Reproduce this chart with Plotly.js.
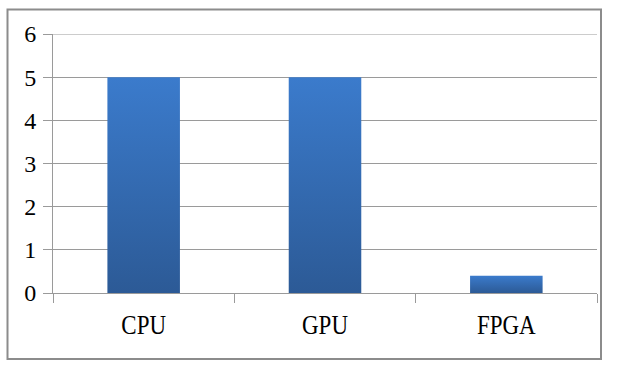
<!DOCTYPE html>
<html>
<head>
<meta charset="utf-8">
<script src="https://cdn.plot.ly/plotly-3.0.1.min.js"></script>
<style>
html,body{margin:0;padding:0;background:#fff;}
#chart{width:628px;height:366px;}
</style>
</head>
<body>
<div id="chart"></div>
<script>
const categories = ["CPU", "GPU", "FPGA"];
const values = [5, 5, 0.4];
const yTicks = [0, 1, 2, 3, 4, 5, 6];

const W = 628, H = 366;
const mL = 53, mR = 31, mT = 34, mB = 73;
const pw = W - mL - mR, ph = H - mT - mB;
function px(x){ return (x - mL) / pw; }
function py(y){ return (H - mB - y) / ph; }

const trace = {
  type: 'bar',
  x: categories,
  y: values,
  marker: {color: '#3570b8', line: {width: 0}},
  hoverinfo: 'none'
};

const layout = {
  width: W, height: H,
  margin: {l: mL, r: mR, t: mT, b: mB, pad: 0},
  paper_bgcolor: '#ffffff',
  plot_bgcolor: '#ffffff',
  showlegend: false,
  bargap: 0.6,
  font: {family: '"Liberation Serif", "DejaVu Serif", serif', color: '#000'},
  xaxis: {
    type: 'category',
    tickson: 'boundaries',
    ticks: 'outside', ticklen: 9, tickcolor: '#9a9a9a', tickwidth: 1,
    ticklabelstandoff: 11,
    showline: true, linecolor: '#9a9a9a', linewidth: 1,
    showgrid: false, zeroline: false,
    tickfont: {size: 23, family: '"Liberation Serif", serif'},
    fixedrange: true
  },
  yaxis: {
    range: [0, 6],
    tickvals: yTicks,
    ticktext: yTicks.map(String),
    ticks: 'outside', ticklen: 9, tickcolor: '#9a9a9a', tickwidth: 1,
    ticklabelstandoff: 2,
    showline: true, linecolor: '#9a9a9a', linewidth: 1,
    showgrid: true, gridcolor: '#9a9a9a', gridwidth: 1,
    zeroline: false,
    tickfont: {size: 24, family: '"Liberation Serif", serif'},
    fixedrange: true
  },
  shapes: [{
    type: 'rect', xref: 'paper', yref: 'paper',
    x0: px(7.5), x1: px(601), y0: py(359), y1: py(9.5),
    line: {color: '#8c8c8c', width: 2},
    fillcolor: 'rgba(0,0,0,0)',
    layer: 'below'
  }, {
    type: 'line', xref: 'paper', yref: 'y',
    x0: 0, x1: 1, y0: yTicks[yTicks.length - 1], y1: yTicks[yTicks.length - 1],
    line: {color: '#9a9a9a', width: 1},
    layer: 'below'
  }]
};

Plotly.newPlot('chart', [trace], layout, {staticPlot: true, displayModeBar: false}).then(function(gd){
  const svg = gd.querySelector('svg.main-svg');
  const ns = 'http://www.w3.org/2000/svg';
  let defs = svg.querySelector('defs');
  if (!defs) { defs = document.createElementNS(ns, 'defs'); svg.insertBefore(defs, svg.firstChild); }
  const grad = document.createElementNS(ns, 'linearGradient');
  grad.setAttribute('id', 'barGrad');
  grad.setAttribute('x1', '0'); grad.setAttribute('y1', '0');
  grad.setAttribute('x2', '0'); grad.setAttribute('y2', '1');
  [['0%', '#3b7bcc'], ['100%', '#2c5a96']].forEach(function(s){
    const st = document.createElementNS(ns, 'stop');
    st.setAttribute('offset', s[0]); st.setAttribute('stop-color', s[1]);
    grad.appendChild(st);
  });
  defs.appendChild(grad);
  gd.querySelectorAll('.bars .point path').forEach(function(p){
    p.style.fill = 'url(#barGrad)';
  });
  // the reference glyphs are slightly stretched vertically
  gd.querySelectorAll('g.xtick text').forEach(function(t){
    const b = t.getBBox();
    const cy = b.y + b.height / 2;
    const old = t.getAttribute('transform') || '';
    t.setAttribute('transform', old + ' translate(0,' + cy + ') scale(1,1.18) translate(0,' + (-cy) + ')');
  });
});
</script>
</body>
</html>
